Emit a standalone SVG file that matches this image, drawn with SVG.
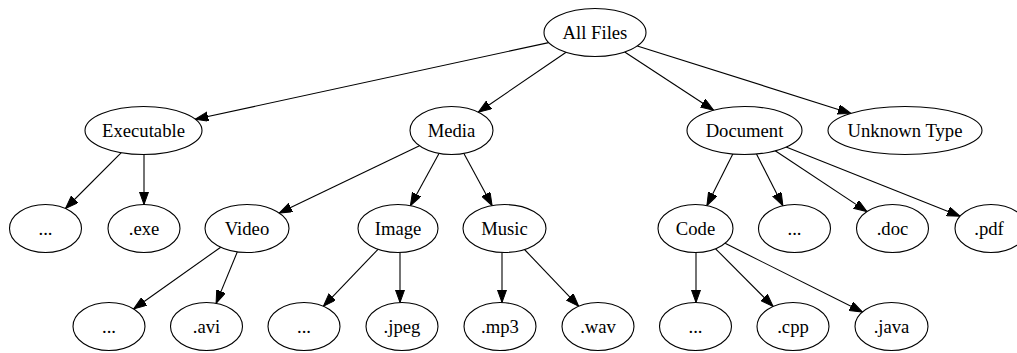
<svg xmlns="http://www.w3.org/2000/svg" width="1017" height="353" viewBox="0 0 1017 353">
<style>
.n ellipse{fill:#fff;stroke:#000;stroke-width:1.1}
.n text{font-size:18.67px;text-anchor:middle;fill:#000}
.e line{stroke:#000;stroke-width:1.1;marker-end:url(#ah)}
</style>
<defs>
<marker id="ah" markerUnits="userSpaceOnUse" markerWidth="14" markerHeight="10" refX="13" refY="4.7" orient="auto">
<path d="M0,0 L13,4.7 L0,9.4 z" fill="#000" stroke="#000" stroke-width="1"/>
</marker>
</defs>
<rect width="1017" height="353" fill="#fff"/>
<g id="edges" class="e">
<line x1="548.7" y1="42.6" x2="195.2" y2="119.3"/>
<line x1="566.1" y1="52.3" x2="478.3" y2="112.2"/>
<line x1="624.7" y1="52.0" x2="713.6" y2="110.3"/>
<line x1="637.3" y1="45.9" x2="850.9" y2="113.4"/>
<line x1="121.3" y1="152.7" x2="65.5" y2="208.5"/>
<line x1="144" y1="154.5" x2="144" y2="204.5"/>
<line x1="419.5" y1="145.8" x2="279.2" y2="213.1"/>
<line x1="439.0" y1="153.4" x2="410.4" y2="205.7"/>
<line x1="463.9" y1="153.4" x2="492.1" y2="205.6"/>
<line x1="732.8" y1="154.0" x2="706.9" y2="205.6"/>
<line x1="756.5" y1="154.0" x2="782.9" y2="205.8"/>
<line x1="775.2" y1="150.8" x2="867.0" y2="211.6"/>
<line x1="786.1" y1="147.1" x2="960.1" y2="216.2"/>
<line x1="220.7" y1="247.2" x2="133.6" y2="309.0"/>
<line x1="237.3" y1="251.9" x2="216.1" y2="303.4"/>
<line x1="378.0" y1="249.3" x2="323.4" y2="306.3"/>
<line x1="400" y1="252.5" x2="400" y2="302.5"/>
<line x1="502" y1="252.5" x2="502" y2="302.5"/>
<line x1="524.5" y1="249.5" x2="578.7" y2="306.3"/>
<line x1="696" y1="252.5" x2="696" y2="302.5"/>
<line x1="715.6" y1="248.8" x2="773.1" y2="306.5"/>
<line x1="725.1" y1="243.3" x2="862.5" y2="312.0"/>
</g>
<g id="nodes" font-family="Liberation Serif, DejaVu Serif, serif">
<g id="allfiles" class="n"><ellipse cx="595" cy="32.5" rx="51" ry="24"/><text x="595" y="39">All Files</text></g>
<g id="executable" class="n"><ellipse cx="143.5" cy="130.5" rx="58.5" ry="24"/><text x="143.5" y="137">Executable</text></g>
<g id="media" class="n"><ellipse cx="451.5" cy="130.5" rx="41.5" ry="24"/><text x="451.5" y="137">Media</text></g>
<g id="document" class="n"><ellipse cx="744.5" cy="130.5" rx="57.5" ry="24"/><text x="744.5" y="137">Document</text></g>
<g id="unknown" class="n"><ellipse cx="905" cy="130.5" rx="77" ry="24"/><text x="905" y="137">Unknown Type</text></g>
<g id="exe_more" class="n"><ellipse cx="45.5" cy="228.5" rx="36" ry="24"/><text x="45.5" y="235">...</text></g>
<g id="exe" class="n"><ellipse cx="144" cy="228.5" rx="36" ry="24"/><text x="144" y="235">.exe</text></g>
<g id="video" class="n"><ellipse cx="247" cy="228.5" rx="42" ry="24"/><text x="247" y="235">Video</text></g>
<g id="image" class="n"><ellipse cx="398" cy="228.5" rx="40" ry="24"/><text x="398" y="235">Image</text></g>
<g id="music" class="n"><ellipse cx="504.5" cy="228.5" rx="41.5" ry="24"/><text x="504.5" y="235">Music</text></g>
<g id="code" class="n"><ellipse cx="695.5" cy="228.5" rx="37.5" ry="24"/><text x="695.5" y="235">Code</text></g>
<g id="doc_more" class="n"><ellipse cx="794.5" cy="228.5" rx="36" ry="24"/><text x="794.5" y="235">...</text></g>
<g id="doc" class="n"><ellipse cx="892.5" cy="228.5" rx="36" ry="24"/><text x="892.5" y="235">.doc</text></g>
<g id="pdf" class="n"><ellipse cx="991" cy="228.5" rx="36" ry="24"/><text x="989" y="235">.pdf</text></g>
<g id="video_more" class="n"><ellipse cx="109" cy="326.5" rx="36" ry="24"/><text x="109" y="333">...</text></g>
<g id="avi" class="n"><ellipse cx="206.5" cy="326.5" rx="36" ry="24"/><text x="206.5" y="333">.avi</text></g>
<g id="image_more" class="n"><ellipse cx="304" cy="326.5" rx="36" ry="24"/><text x="304" y="333">...</text></g>
<g id="jpeg" class="n"><ellipse cx="402" cy="326.5" rx="36" ry="24"/><text x="402" y="333">.jpeg</text></g>
<g id="mp3" class="n"><ellipse cx="500" cy="326.5" rx="36" ry="24"/><text x="500" y="333">.mp3</text></g>
<g id="wav" class="n"><ellipse cx="598" cy="326.5" rx="36" ry="24"/><text x="598" y="333">.wav</text></g>
<g id="code_more" class="n"><ellipse cx="695.5" cy="326.5" rx="36" ry="24"/><text x="695.5" y="333">...</text></g>
<g id="cpp" class="n"><ellipse cx="793" cy="326.5" rx="36" ry="24"/><text x="793" y="333">.cpp</text></g>
<g id="java" class="n"><ellipse cx="891.5" cy="326.5" rx="36.5" ry="24"/><text x="891.5" y="333">.java</text></g>
</g>
</svg>
